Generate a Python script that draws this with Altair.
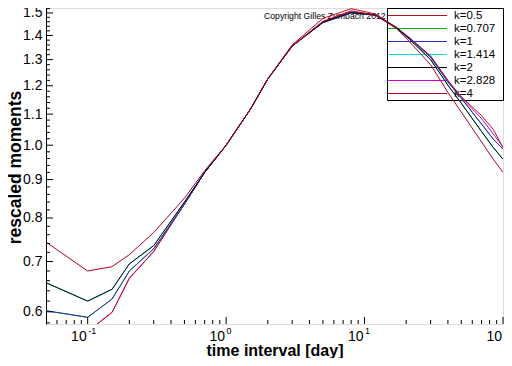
import altair as alt
import pandas as pd

# ---------------- data ----------------
x_days = [0.05, 0.1, 0.15, 0.2, 0.3, 0.5, 0.7, 1, 1.5, 2, 3, 5, 8, 12, 17, 21, 30, 40, 50, 70, 85, 100]

k_labels = ["k=0.5", "k=0.707", "k=1", "k=1.414", "k=2", "k=2.828", "k=4"]
k_colors = ["#B8101E", "#00B000", "#2A2AC8", "#00E0E0", "#000000", "#D000D0", "#B00024"]

m_k0_5 = [0.55, 0.565, 0.599, 0.665, 0.722, 0.835, 0.920, 1.0, 1.117, 1.226, 1.36, 1.475, 1.520, 1.495, 1.435, 1.392, 1.315, 1.22, 1.16, 1.095, 1.05, 0.992]
m_k0_707 = [0.602, 0.590, 0.624, 0.680, 0.728, 0.835, 0.920, 1.0, 1.117, 1.225, 1.355, 1.456, 1.500, 1.490, 1.434, 1.389, 1.31, 1.214, 1.155, 1.067, 1.019, 0.988]
m_k1 = [0.602, 0.590, 0.624, 0.680, 0.728, 0.835, 0.920, 1.0, 1.117, 1.225, 1.355, 1.456, 1.500, 1.490, 1.434, 1.389, 1.31, 1.214, 1.155, 1.067, 1.019, 0.988]
m_k1_414 = [0.656, 0.620, 0.643, 0.695, 0.735, 0.840, 0.920, 1.0, 1.117, 1.225, 1.355, 1.458, 1.502, 1.490, 1.433, 1.385, 1.30, 1.202, 1.137, 1.043, 0.993, 0.958]
m_k2 = [0.656, 0.620, 0.643, 0.695, 0.735, 0.840, 0.920, 1.0, 1.117, 1.225, 1.355, 1.458, 1.502, 1.490, 1.433, 1.385, 1.30, 1.202, 1.137, 1.043, 0.993, 0.958]
m_k2_828 = [0.55, 0.565, 0.599, 0.665, 0.722, 0.835, 0.920, 1.0, 1.117, 1.225, 1.357, 1.460, 1.505, 1.492, 1.434, 1.390, 1.312, 1.218, 1.158, 1.085, 1.035, 0.995]
m_k4 = [0.743, 0.680, 0.689, 0.715, 0.765, 0.850, 0.925, 1.0, 1.117, 1.225, 1.355, 1.462, 1.510, 1.490, 1.430, 1.375, 1.28, 1.176, 1.107, 1.010, 0.958, 0.920]

series = {
    "k=0.5": m_k0_5, "k=0.707": m_k0_707, "k=1": m_k1, "k=1.414": m_k1_414,
    "k=2": m_k2, "k=2.828": m_k2_828, "k=4": m_k4,
}
# drawing order (last on top)
draw_order = ["k=0.707", "k=1.414", "k=2.828", "k=0.5", "k=1", "k=2", "k=4"]

y_major = [0.6, 0.7, 0.8, 0.9, 1.0, 1.1, 1.2, 1.3, 1.4, 1.5]
y_minor = [round(0.58 + 0.02 * i, 2) for i in range(48)]
y_minor = [v for v in y_minor if v <= 1.52 and round(v * 10, 6) != round(v * 10)]
x_major = [0.1, 1, 10, 100]
x_major_base = ["10", "10", "10", "10"]
x_major_exp = ["-1", "0", "1", "2"]
x_minor = [round(d * m, 4) for d in (0.01, 0.1, 1, 10) for m in range(2, 10)]
x_minor = [v for v in x_minor if 0.05 < v < 100]

x_title = "time interval [day]"
y_title = "rescaled moments"
copyright_text = "Copyright Gilles Zumbach 2012"

# ---------------- chart ----------------
W, H = 457, 316
FONT = "Liberation Sans"
color_map = dict(zip(k_labels, k_colors))

xscale = alt.Scale(type="log", domain=[0.05, 100], nice=False)
yscale = alt.Scale(type="log", domain=[0.578, 1.523], nice=False)

rows = []
for lab in k_labels:
    for t, m in zip(x_days, series[lab]):
        rows.append({"t": t, "m": m, "k": lab})
df = pd.DataFrame(rows)

xaxis = alt.Axis(
    values=x_major, labels=False, ticks=False, grid=False, domain=True,
    domainColor="black", domainWidth=1, title=None,
)
yaxis = alt.Axis(
    values=y_major, format=".1f",
    ticks=False, grid=False, domain=True, domainColor="black", domainWidth=1,
    labelFontSize=14, labelColor="black", labelPadding=4, labelFont=FONT,
    labelOverlap=False, labelFlush=False,
    title=y_title, titleFont=FONT, titleFontSize=17.5, titleFontWeight="bold",
    titleColor="black", titleX=-31, titleY=159, titleAngle=270, titleBaseline="middle",
    titleAlign="center",
)

layers = []

# legend box (beneath curves)
box_df = pd.DataFrame({"a": [0]})
layers.append(
    alt.Chart(box_df).mark_rect(fill="white", stroke="black", strokeWidth=1, clip=False).encode(
        x=alt.value(341.5), x2=alt.value(457.5), y=alt.value(0.5), y2=alt.value(92.5)
    )
)

# copyright text
layers.append(
    alt.Chart(pd.DataFrame({"txt": [copyright_text]})).mark_text(
        align="left", baseline="middle", fontSize=8.7, font=FONT, color="black"
    ).encode(x=alt.value(218), y=alt.value(7.7), text="txt:N")
)

# legend entries
leg_df = pd.DataFrame({"k": k_labels})
leg_y = alt.Y("k:N", scale=alt.Scale(type="point", domain=k_labels, range=[7.5, 85.5], padding=0), axis=None)
leg_color = alt.Color("k:N", scale=alt.Scale(domain=k_labels, range=k_colors), legend=None)
layers.append(
    alt.Chart(leg_df).mark_rule(strokeWidth=1, clip=False).encode(
        x=alt.value(342), x2=alt.value(401), y=leg_y, color=leg_color
    )
)
layers.append(
    alt.Chart(leg_df).mark_text(align="left", baseline="middle", fontSize=11.5, font=FONT, color="black", clip=False).encode(
        x=alt.value(408), y=leg_y, text="k:N"
    )
)

# curves
first = True
for lab in draw_order:
    layers.append(
        alt.Chart(df).transform_filter(alt.datum.k == lab).mark_line(
            strokeWidth=1, clip=True, color=color_map[lab]
        ).encode(
            x=alt.X("t:Q", scale=xscale, axis=xaxis if first else None),
            y=alt.Y("m:Q", scale=yscale, axis=yaxis if first else None),
            order="t:Q",
        )
    )
    first = False

# inward ticks
layers.append(
    alt.Chart(pd.DataFrame({"m": y_major})).mark_rule(color="black", strokeWidth=1).encode(
        y=alt.Y("m:Q", scale=yscale, axis=None), x=alt.value(0), x2=alt.value(7)
    )
)
layers.append(
    alt.Chart(pd.DataFrame({"m": y_minor})).mark_rule(color="black", strokeWidth=1).encode(
        y=alt.Y("m:Q", scale=yscale, axis=None), x=alt.value(0), x2=alt.value(4)
    )
)
layers.append(
    alt.Chart(pd.DataFrame({"t": x_major})).mark_rule(color="black", strokeWidth=1).encode(
        x=alt.X("t:Q", scale=xscale, axis=None), y=alt.value(H), y2=alt.value(H - 7)
    )
)
layers.append(
    alt.Chart(pd.DataFrame({"t": x_minor})).mark_rule(color="black", strokeWidth=1).encode(
        x=alt.X("t:Q", scale=xscale, axis=None), y=alt.value(H), y2=alt.value(H - 4)
    )
)

# x tick labels: "10" with superscript exponent
xl_df = pd.DataFrame({"t": x_major, "base": x_major_base, "exp": x_major_exp})
layers.append(
    alt.Chart(xl_df).mark_text(align="right", baseline="alphabetic", fontSize=14, font=FONT,
                               color="black", clip=False, dx=-1).encode(
        x=alt.X("t:Q", scale=xscale, axis=None), y=alt.value(332.5), text="base:N"
    )
)
layers.append(
    alt.Chart(xl_df).mark_text(align="left", baseline="alphabetic", fontSize=9, font=FONT,
                               color="black", clip=False, dx=0.5).encode(
        x=alt.X("t:Q", scale=xscale, axis=None), y=alt.value(326), text="exp:N"
    )
)

# x title
layers.append(
    alt.Chart(pd.DataFrame({"s": [x_title]})).mark_text(
        align="center", baseline="alphabetic", fontSize=16, fontWeight="bold", font=FONT,
        color="black", clip=False
    ).encode(x=alt.value(229), y=alt.value(347.5), text="s:N")
)

chart = alt.layer(*layers).resolve_scale(y="independent", color="independent").properties(
    width=W, height=H,
    autosize=alt.AutoSizeParams(type="none"),
    padding={"left": 38, "top": 0, "right": 1, "bottom": 34},
    background="white",
).configure_view(stroke=None).configure(font=FONT)

chart.save("out.html", embed_options={"renderer": "svg", "actions": False})
